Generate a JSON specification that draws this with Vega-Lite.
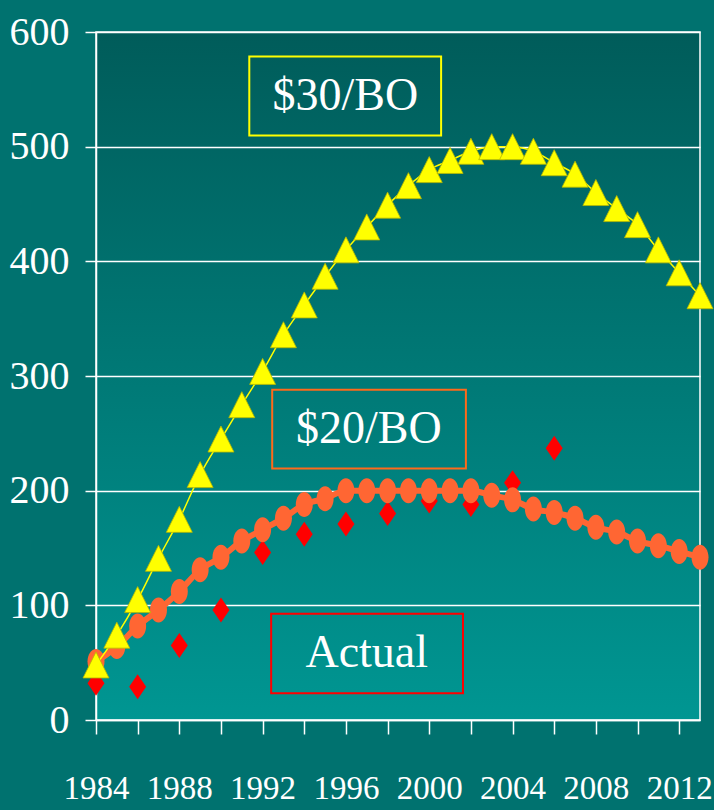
{
  "$schema": "https://vega.github.io/schema/vega-lite/v6.json",
  "width": 604,
  "height": 688,
  "autosize": {"type": "none"},
  "padding": {"left": 96, "top": 32, "right": 14, "bottom": 90},
  "background": "#00726f",
  "config": {
    "view": {
      "stroke": "#ffffff",
      "strokeWidth": 1.5,
      "fill": {"gradient": "linear", "x1": 0, "y1": 0, "x2": 0, "y2": 1,
        "stops": [{"offset": 0, "color": "#005c5a"}, {"offset": 1, "color": "#009692"}]}
    },
    "font": "'Liberation Serif', 'Times New Roman', Times, serif"
  },
  "datasets": {
    "s30": [
      {"year": 1984, "value": 48}, {"year": 1985, "value": 74}, {"year": 1986, "value": 105},
      {"year": 1987, "value": 141}, {"year": 1988, "value": 175}, {"year": 1989, "value": 214},
      {"year": 1990, "value": 245}, {"year": 1991, "value": 275}, {"year": 1992, "value": 304},
      {"year": 1993, "value": 336}, {"year": 1994, "value": 362}, {"year": 1995, "value": 387},
      {"year": 1996, "value": 410}, {"year": 1997, "value": 430}, {"year": 1998, "value": 449},
      {"year": 1999, "value": 466}, {"year": 2000, "value": 480}, {"year": 2001, "value": 488},
      {"year": 2002, "value": 496}, {"year": 2003, "value": 500}, {"year": 2004, "value": 500},
      {"year": 2005, "value": 496}, {"year": 2006, "value": 486}, {"year": 2007, "value": 476},
      {"year": 2008, "value": 460}, {"year": 2009, "value": 446}, {"year": 2010, "value": 432},
      {"year": 2011, "value": 410}, {"year": 2012, "value": 390}, {"year": 2013, "value": 370}
    ],
    "s20": [
      {"year": 1984, "value": 51}, {"year": 1985, "value": 64}, {"year": 1986, "value": 82},
      {"year": 1987, "value": 96}, {"year": 1988, "value": 112}, {"year": 1989, "value": 131},
      {"year": 1990, "value": 142}, {"year": 1991, "value": 156}, {"year": 1992, "value": 166},
      {"year": 1993, "value": 176}, {"year": 1994, "value": 188}, {"year": 1995, "value": 193},
      {"year": 1996, "value": 200}, {"year": 1997, "value": 200}, {"year": 1998, "value": 200},
      {"year": 1999, "value": 200}, {"year": 2000, "value": 200}, {"year": 2001, "value": 200},
      {"year": 2002, "value": 200}, {"year": 2003, "value": 196}, {"year": 2004, "value": 192},
      {"year": 2005, "value": 184}, {"year": 2006, "value": 181}, {"year": 2007, "value": 176},
      {"year": 2008, "value": 168}, {"year": 2009, "value": 164}, {"year": 2010, "value": 156},
      {"year": 2011, "value": 152}, {"year": 2012, "value": 147}, {"year": 2013, "value": 142}
    ],
    "actual": [
      {"year": 1984, "value": 32}, {"year": 1986, "value": 29}, {"year": 1988, "value": 65},
      {"year": 1990, "value": 96}, {"year": 1992, "value": 146}, {"year": 1994, "value": 162},
      {"year": 1996, "value": 171}, {"year": 1998, "value": 180}, {"year": 2000, "value": 191},
      {"year": 2002, "value": 188}, {"year": 2004, "value": 207}, {"year": 2006, "value": 237}
    ],
    "boxes": [
      {"label": "$30/BO", "year": 1991.36, "year2": 2000.57, "value": 578.6, "value2": 509.8, "cx": 1995.97, "cy": 544},
      {"label": "$20/BO", "year": 1992.46, "year2": 2001.76, "value": 287.9, "value2": 219.4, "cx": 1997.1, "cy": 253.6},
      {"label": "Actual", "year": 1992.41, "year2": 2001.62, "value": 92.6, "value2": 23.3, "cx": 1997.0, "cy": 58}
    ]
  },
  "encoding": {
    "x": {
      "field": "year", "type": "quantitative", "title": null,
      "scale": {"domain": [1984, 2013], "nice": false, "zero": false},
      "axis": {
        "values": [1984, 1986, 1988, 1990, 1992, 1994, 1996, 1998, 2000, 2002, 2004, 2006, 2008, 2010, 2012],
        "labelExpr": "datum.value % 4 == 0 ? datum.value : ''",
        "grid": false, "domainColor": "#ffffff", "domainWidth": 1.5,
        "tickColor": "#ffffff", "tickWidth": 1.5, "tickSize": 14,
        "labelColor": "#ffffff", "labelFont": "'Liberation Serif', 'Times New Roman', Times, serif", "labelFontSize": 33,
        "labelPadding": 38, "labelOverlap": false, "labelFlush": false
      }
    },
    "y": {
      "field": "value", "type": "quantitative", "title": null,
      "scale": {"domain": [0, 600], "nice": false},
      "axis": {
        "values": [0, 100, 200, 300, 400, 500, 600],
        "grid": true, "gridColor": "#ffffff", "gridWidth": 1.5, "gridOpacity": 1,
        "domainColor": "#ffffff", "domainWidth": 1.5,
        "tickColor": "#ffffff", "tickWidth": 1.5, "tickSize": 11,
        "labelColor": "#ffffff", "labelFont": "'Liberation Serif', 'Times New Roman', Times, serif", "labelFontSize": 40,
        "labelPadding": 16, "labelBaseline": "middle"
      }
    }
  },
  "layer": [
    {
      "data": {"name": "boxes"},
      "mark": {"type": "rect", "fill": null, "strokeWidth": 2},
      "encoding": {
        "x2": {"field": "year2"},
        "y2": {"field": "value2"},
        "stroke": {"field": "label", "type": "nominal", "legend": null,
          "scale": {"domain": ["$30/BO", "$20/BO", "Actual"], "range": ["#ffff00", "#ff6a1a", "#ff0000"]}}
      }
    },
    {
      "data": {"name": "boxes"},
      "mark": {"type": "text", "color": "#ffffff", "font": "'Liberation Serif', 'Times New Roman', Times, serif", "fontSize": 46, "align": "center", "baseline": "middle"},
      "encoding": {
        "x": {"field": "cx", "type": "quantitative"},
        "y": {"field": "cy", "type": "quantitative"},
        "text": {"field": "label"}
      }
    },
    {
      "data": {"name": "actual"},
      "mark": {"type": "point", "shape": "M0,-1L0.68,0L0,1L-0.68,0Z", "size": 625, "filled": true, "color": "#ff0000", "opacity": 1}
    },
    {
      "data": {"name": "s20"},
      "mark": {"type": "line", "color": "#ff6633", "strokeWidth": 6, "interpolate": "monotone"}
    },
    {
      "data": {"name": "s20"},
      "mark": {"type": "point", "shape": "M-0.68,0A0.68,1,0,1,1,0.68,0A0.68,1,0,1,1,-0.68,0Z", "size": 625, "filled": true, "color": "#ff6633", "opacity": 1}
    },
    {
      "data": {"name": "s30"},
      "mark": {"type": "line", "color": "#ffff00", "strokeWidth": 1.5, "interpolate": "monotone"}
    },
    {
      "data": {"name": "s30"},
      "mark": {"type": "point", "shape": "M0,-1L1,1L-1,1Z", "size": 676, "filled": true, "color": "#ffff00", "stroke": "#b8b800", "strokeWidth": 0.8, "opacity": 1}
    }
  ]
}
